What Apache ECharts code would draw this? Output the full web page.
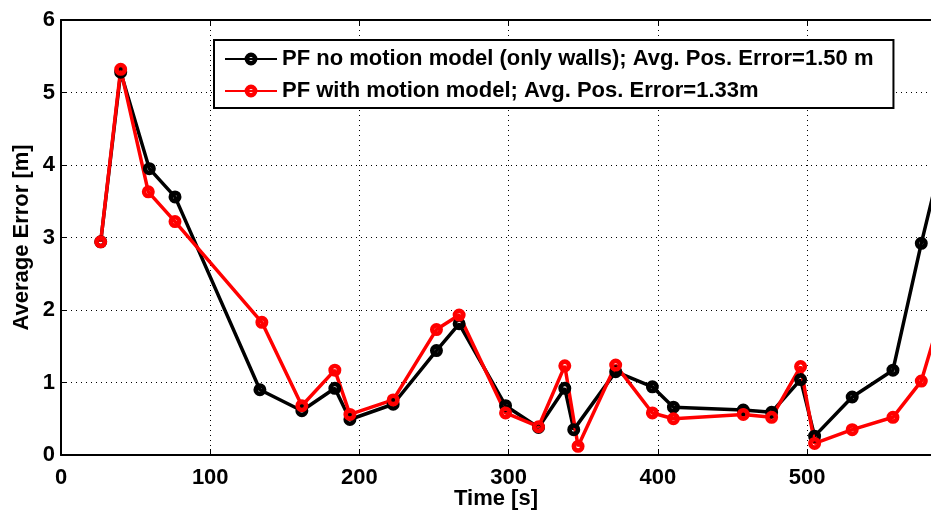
<!DOCTYPE html>
<html>
<head>
<meta charset="utf-8">
<script src="https://cdn.jsdelivr.net/npm/echarts@6/dist/echarts.min.js"></script>
<style>html,body{margin:0;padding:0;background:#fff}#c{width:931px;height:514px}</style>
</head>
<body>
<div id="c"></div>
<script>
// Time [s]
const timeNoMotion = [26.6, 40, 59.2, 76.4, 133.3, 161.4, 183.5, 193.6, 222.6, 251.6, 266.8, 297.9, 320, 337.6, 343.6, 371.7, 396.3, 410.4, 457.2, 476.2, 495.6, 505, 530.2, 557.5, 576.5, 597];
const errNoMotion  = [2.94, 5.28, 3.95, 3.56, 0.90, 0.61, 0.92, 0.49, 0.70, 1.44, 1.81, 0.68, 0.38, 0.92, 0.35, 1.15, 0.94, 0.66, 0.62, 0.59, 1.04, 0.26, 0.80, 1.17, 2.92, 4.66];
const timeMotion   = [26.6, 40, 58.5, 76.4, 134.6, 161.4, 183.5, 193.6, 222.6, 251.6, 266.8, 297.9, 320, 337.6, 346.5, 371.7, 396.3, 410.4, 457.2, 476.2, 495.6, 505, 530.2, 557.5, 576.5, 597];
const errMotion    = [2.94, 5.32, 3.63, 3.22, 1.83, 0.68, 1.17, 0.56, 0.76, 1.73, 1.93, 0.58, 0.39, 1.23, 0.12, 1.24, 0.58, 0.50, 0.56, 0.52, 1.22, 0.16, 0.35, 0.52, 1.02, 2.44];
const xTicks = [0, 100, 200, 300, 400, 500];
const yTicks = [0, 1, 2, 3, 4, 5, 6];
const seriesNames = ['PF no motion model (only walls); Avg. Pos. Error=1.50 m', 'PF with motion model; Avg. Pos. Error=1.33m'];

const font = 'Arial, "Liberation Sans", Helvetica, sans-serif';
const ring = 'path://M0,-10A10,10 0 1,1 0,10A10,10 0 1,1 0,-10ZM0,-3A3,3 0 1,0 0,3A3,3 0 1,0 0,-3Z';
const chart = echarts.init(document.getElementById('c'), null, {renderer: 'canvas'});
const pair = (xs, ys) => xs.map((x, i) => [x, ys[i]]);
const txt = {color: '#000', fontFamily: font, fontSize: 22, fontWeight: 'bold'};

chart.setOption({
  animation: false,
  backgroundColor: '#fff',
  grid: {left: 61, top: 20, right: 0, bottom: 59, containLabel: false, outerBoundsMode: 'none'},
  legend: {
    orient: 'vertical', left: 214, top: 40,
    padding: [8, 20, 6, 10], itemGap: 10, itemWidth: 52, itemHeight: 16,
    borderColor: '#000', borderWidth: 2, backgroundColor: '#fff',
    textStyle: Object.assign({}, txt), data: seriesNames
  },
  xAxis: [{
    type: 'value', min: 0, max: 583, interval: 100,
    name: 'Time [s]', nameLocation: 'middle', nameGap: 33, nameMoveOverlap: false,
    nameTextStyle: Object.assign({}, txt),
    axisLine: {show: true, lineStyle: {color: '#000', width: 2}},
    axisTick: {show: true, inside: true, length: 6, lineStyle: {color: '#000'}},
    axisLabel: Object.assign({margin: 12, formatter: v => xTicks.includes(v) ? String(v) : ''}, txt),
    splitLine: {show: true, lineStyle: {color: '#000', type: [1, 4], width: 1}}
  }, {
    type: 'value', position: 'top', min: 0, max: 583, interval: 100,
    axisLine: {show: true, onZero: false, lineStyle: {color: '#000', width: 2}},
    axisTick: {show: true, inside: true, length: 6, lineStyle: {color: '#000'}},
    axisLabel: {show: false}, splitLine: {show: false}
  }],
  yAxis: {
    type: 'value', min: 0, max: 6, interval: 1,
    name: 'Average Error [m]', nameLocation: 'middle', nameGap: 28, nameMoveOverlap: false,
    nameTextStyle: Object.assign({}, txt),
    axisLine: {show: true, lineStyle: {color: '#000', width: 2}},
    axisTick: {show: true, inside: true, length: 6, lineStyle: {color: '#000'}},
    axisLabel: Object.assign({margin: 6, formatter: v => yTicks.includes(v) ? String(v) : ''}, txt),
    splitLine: {show: true, lineStyle: {color: '#000', type: [1, 4], width: 1}}
  },
  series: [{
    name: seriesNames[0], type: 'line', data: pair(timeNoMotion, errNoMotion), clip: true,
    symbol: ring, symbolSize: 13, showAllSymbol: true,
    lineStyle: {color: '#000', width: 3.5}, itemStyle: {color: '#000', borderWidth: 0}
  }, {
    name: seriesNames[1], type: 'line', data: pair(timeMotion, errMotion), clip: true,
    symbol: ring, symbolSize: 13, showAllSymbol: true,
    lineStyle: {color: '#ff0000', width: 3.5}, itemStyle: {color: '#ff0000', borderWidth: 0}
  }]
});
</script>
</body>
</html>
